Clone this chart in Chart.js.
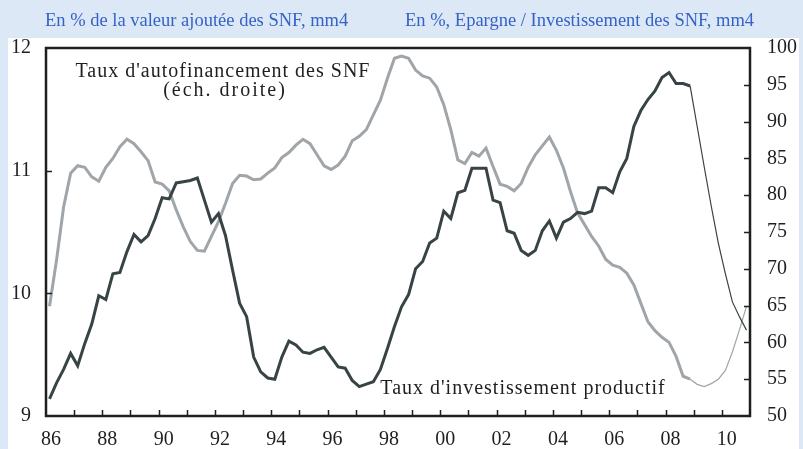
<!DOCTYPE html>
<html lang="fr">
<head>
<meta charset="utf-8">
<title>Investissement et autofinancement des SNF</title>
<script src="https://cdn.jsdelivr.net/npm/chart.js@4.4.1/dist/chart.umd.min.js"></script>
<style>
  html, body { margin: 0; padding: 0; background: #dde8f7; }
  #chart { display: block; }
</style>
</head>
<body>
<canvas id="chart" width="803" height="449"></canvas>
<script>
/**
 * Taux d'investissement productif (éch. gauche) et taux d'autofinancement
 * des SNF (éch. droite), données trimestrielles 1986T1 - 2010T4, mm4
 */

const FIRST_YEAR = 1986;
const LAST_YEAR = 2011;

// Taux d'investissement productif, % de la VA (échelle gauche)
const investissement = [
    9.14, 9.27, 9.38, 9.51, 9.41, 9.59, 9.75, 9.98, 9.95, 10.16,
    10.17, 10.34, 10.48, 10.42, 10.47, 10.61, 10.78, 10.77, 10.90, 10.91,
    10.92, 10.94, 10.76, 10.58, 10.65, 10.47, 10.19, 9.92, 9.81, 9.48,
    9.36, 9.31, 9.30, 9.48, 9.61, 9.58, 9.52, 9.51, 9.54, 9.56,
    9.48, 9.40, 9.39, 9.29, 9.24, 9.26, 9.28, 9.38, 9.55, 9.73,
    9.89, 9.99, 10.20, 10.26, 10.41, 10.45, 10.67, 10.61, 10.82, 10.84,
    11.02, 11.02, 11.02, 10.76, 10.74, 10.51, 10.49, 10.35, 10.31, 10.35,
    10.51, 10.59, 10.45, 10.58, 10.61, 10.66, 10.65, 10.67, 10.86, 10.86,
    10.82, 10.99, 11.10, 11.36, 11.49, 11.58, 11.65, 11.76, 11.80, 11.71,
    11.71, 11.69, 11.36, 11.03, 10.71, 10.41, 10.16, 9.93, 9.81, 9.70
];

// Taux d'autofinancement, Epargne / Investissement en % (échelle droite)
const autofinancement = [
    64.9, 71.2, 78.4, 83.0, 84.0, 83.8, 82.5, 81.9, 83.8, 85.0,
    86.6, 87.6, 87.0, 85.9, 84.7, 81.8, 81.5, 80.6, 78.0, 75.7,
    73.7, 72.5, 72.4, 74.4, 76.4, 78.9, 81.6, 82.7, 82.6, 82.1,
    82.2, 83.0, 83.7, 85.1, 85.8, 86.8, 87.6, 87.0, 85.5, 84.0,
    83.5, 84.1, 85.3, 87.4, 88.0, 88.9, 90.9, 92.9, 95.9, 98.6,
    98.9, 98.6, 97.0, 96.2, 95.9, 94.7, 92.3, 88.9, 84.8, 84.3,
    85.8, 85.3, 86.4, 83.9, 81.5, 81.2, 80.6, 81.6, 83.8, 85.5,
    86.7, 87.9, 86.1, 83.7, 80.5, 77.6, 76.0, 74.4, 73.1, 71.3,
    70.5, 70.2, 69.4, 67.8, 65.3, 62.8, 61.6, 60.7, 60.0, 58.1,
    55.4, 55.0, 54.3, 54.0, 54.4, 55.0, 56.2, 58.7, 61.7, 64.9
];

// à partir de ce trimestre (2008T4) les courbes sont en trait fin
const FORECAST_FROM = 91;

const leftTitle = 'En % de la valeur ajoutée des SNF, mm4';
const rightTitle = 'En %, Epargne / Investissement des SNF, mm4';
const labelAutofin = ["Taux d'autofinancement des SNF", '(éch. droite)'];
const labelInvest = "Taux d'investissement productif";

const SERIF = '"Liberation Serif", "Times New Roman", serif';
const INK = '#1f1f1f';

// quarterly points placed at the middle of each quarter
function toPoints(values) {
    return values.map((v, i) => ({ x: FIRST_YEAR + (i + 0.5) / 4, y: v }));
}

function segmentWidth(ctx) {
    return ctx.p0DataIndex >= FORECAST_FROM ? 1.2 : 3;
}

/**
 * Fond, titres, cadre, graduations intérieures et étiquettes des courbes
 */
const decorPlugin = {
    id: 'decor',
    beforeDraw(chart) {
        const ctx = chart.ctx;
        ctx.save();
        ctx.fillStyle = '#dde8f7';
        ctx.fillRect(0, 0, chart.width, chart.height);
        ctx.fillStyle = '#ffffff';
        ctx.fillRect(8, 38, 791, chart.height - 38);

        ctx.fillStyle = '#3463c6';
        ctx.font = '18.5px ' + SERIF;
        ctx.textBaseline = 'alphabetic';
        ctx.textAlign = 'left';
        ctx.fillText(leftTitle, 45, 26);
        ctx.fillText(rightTitle, 405, 26);
        ctx.restore();
    },
    afterDatasetsDraw(chart) {
        const ctx = chart.ctx;
        const { left, right, top, bottom } = chart.chartArea;
        const { x, y, y1 } = chart.scales;
        const len = 6;

        ctx.save();
        ctx.strokeStyle = INK;
        ctx.lineWidth = 1.5;
        ctx.beginPath();
        x.ticks.forEach(t => {
            if (t.value <= x.min || t.value >= x.max) return;
            const px = Math.round(x.getPixelForValue(t.value)) + 0.5;
            ctx.moveTo(px, bottom);
            ctx.lineTo(px, bottom - len);
        });
        y.ticks.forEach(t => {
            if (t.value <= y.min || t.value >= y.max) return;
            const py = Math.round(y.getPixelForValue(t.value)) + 0.5;
            ctx.moveTo(left, py);
            ctx.lineTo(left + len, py);
        });
        y1.ticks.forEach(t => {
            if (t.value <= y1.min || t.value >= y1.max) return;
            const py = Math.round(y1.getPixelForValue(t.value)) + 0.5;
            ctx.moveTo(right, py);
            ctx.lineTo(right - len, py);
        });
        ctx.stroke();

        ctx.lineWidth = 2.5;
        ctx.strokeRect(left, top, right - left, bottom - top);
        ctx.restore();
    },
    afterDraw(chart) {
        const ctx = chart.ctx;
        ctx.save();
        ctx.fillStyle = INK;
        ctx.font = '20px ' + SERIF;
        ctx.textAlign = 'center';
        ctx.textBaseline = 'alphabetic';
        ctx.letterSpacing = '1px';
        ctx.fillText(labelAutofin[0], 223, 77);
        ctx.letterSpacing = '2px';
        ctx.fillText(labelAutofin[1], 225, 96);
        ctx.letterSpacing = '1px';
        ctx.fillText(labelInvest, 523, 394);
        ctx.restore();
    }
};

const tickFont = { family: SERIF, size: 20 };

new Chart(document.getElementById('chart'), {
    type: 'line',
    data: {
        datasets: [
            {
                label: "Taux d'investissement productif",
                data: toPoints(investissement),
                yAxisID: 'y',
                borderColor: '#384345',
                borderWidth: 3,
                pointRadius: 0,
                tension: 0,
                segment: { borderWidth: segmentWidth }
            },
            {
                label: "Taux d'autofinancement des SNF",
                data: toPoints(autofinancement),
                yAxisID: 'y1',
                borderColor: '#a0a5a9',
                borderWidth: 3,
                pointRadius: 0,
                tension: 0,
                segment: { borderWidth: segmentWidth }
            }
        ]
    },
    options: {
        responsive: false,
        animation: false,
        devicePixelRatio: 1,
        layout: { padding: { top: 48, left: 0, right: 0, bottom: 0 } },
        plugins: {
            legend: { display: false },
            tooltip: { enabled: false }
        },
        scales: {
            x: {
                type: 'linear',
                min: FIRST_YEAR,
                max: LAST_YEAR,
                grid: { display: false, drawTicks: false },
                border: { display: false },
                afterFit: scale => { scale.height = 33; },
                ticks: {
                    stepSize: 1,
                    autoSkip: false,
                    maxRotation: 0,
                    labelOffset: 5,
                    padding: 12,
                    color: INK,
                    font: tickFont,
                    callback: value => (value % 2 === 0 && value < LAST_YEAR)
                        ? String(value).slice(2) : ''
                }
            },
            y: {
                position: 'left',
                min: 9,
                max: 12,
                grid: { display: false, drawTicks: false },
                border: { display: false },
                afterFit: scale => { scale.width = 46; },
                ticks: { stepSize: 1, padding: 15, color: INK, font: tickFont }
            },
            y1: {
                position: 'right',
                min: 50,
                max: 100,
                grid: { display: false, drawTicks: false },
                border: { display: false },
                afterFit: scale => { scale.width = 53; },
                ticks: { stepSize: 5, padding: 17, color: INK, font: tickFont }
            }
        }
    },
    plugins: [decorPlugin]
});
</script>
</body>
</html>
